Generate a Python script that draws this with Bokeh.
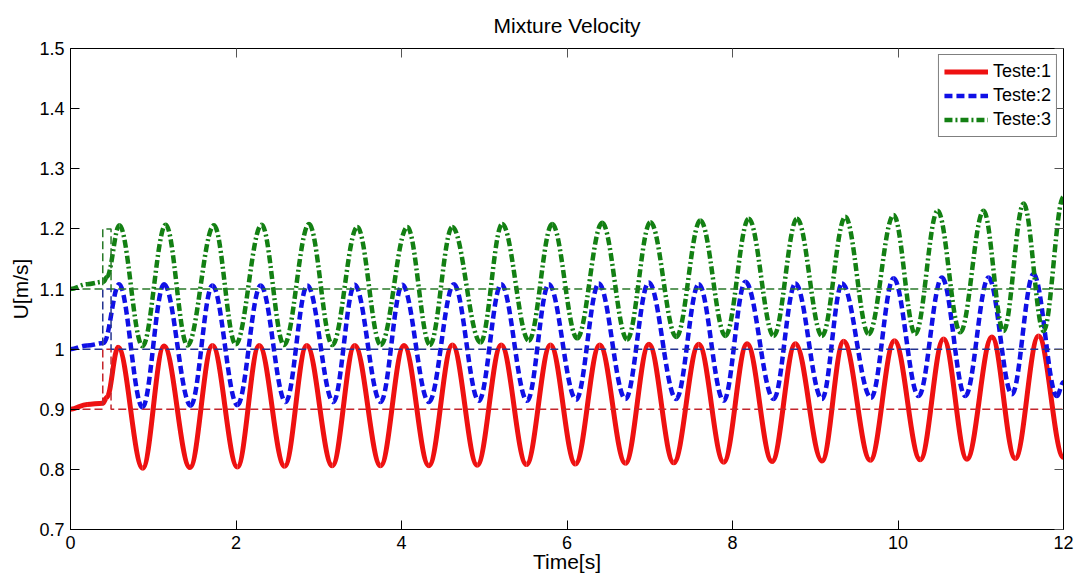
from bokeh.plotting import figure
from bokeh.models import ColumnDataSource, FixedTicker, LinearAxis, Range1d
from bokeh.embed import file_html
from bokeh.resources import INLINE

# ---------------- data ----------------
# Each series: start points, then alternating peaks / troughs, then end value.
red_t = [0.00, 0.20, 0.39, 0.44, 0.575, 0.873, 1.130, 1.444, 1.715, 2.017, 2.280, 2.588,
         2.855, 3.164, 3.435, 3.748, 4.030, 4.331, 4.615, 4.915, 5.205, 5.510, 5.800,
         6.102, 6.395, 6.706, 6.990, 7.290, 7.592, 7.894, 8.176, 8.478, 8.760, 9.082,
         9.343, 9.665, 9.957, 10.269, 10.551, 10.833, 11.135, 11.417, 11.698, 12.00]
red_u = [0.900, 0.908, 0.910, 0.920, 1.003, 0.802, 1.005, 0.803, 1.006, 0.804, 1.006, 0.805,
         1.006, 0.806, 1.006, 0.806, 1.006, 0.806, 1.007, 0.807, 1.007, 0.808, 1.007,
         0.809, 1.007, 0.810, 1.008, 0.811, 1.008, 0.812, 1.009, 0.813, 1.009, 0.814,
         1.013, 0.815, 1.014, 0.816, 1.017, 0.817, 1.020, 0.818, 1.022, 0.820]

blue_t = [0.00, 0.20, 0.40, 0.587, 0.870, 1.130, 1.453, 1.715, 2.017, 2.298, 2.600, 2.862,
          3.176, 3.434, 3.748, 4.010, 4.331, 4.633, 4.935, 5.205, 5.519, 5.780, 6.111,
          6.384, 6.707, 6.988, 7.320, 7.592, 7.894, 8.156, 8.498, 8.760, 9.082, 9.324,
          9.675, 9.947, 10.249, 10.531, 10.813, 11.094, 11.377, 11.638, 11.920, 12.00]
blue_u = [1.000, 1.006, 1.010, 1.108, 0.903, 1.108, 0.906, 1.106, 0.907, 1.106, 0.912, 1.106,
          0.912, 1.107, 0.912, 1.107, 0.912, 1.108, 0.914, 1.108, 0.914, 1.108, 0.916,
          1.109, 0.917, 1.111, 0.917, 1.108, 0.914, 1.112, 0.917, 1.109, 0.917, 1.109,
          0.919, 1.118, 0.922, 1.119, 0.922, 1.119, 0.925, 1.125, 0.922, 0.945]

green_t = [0.00, 0.20, 0.40, 0.44, 0.590, 0.870, 1.151, 1.413, 1.734, 1.996, 2.310, 2.580,
           2.882, 3.164, 3.466, 3.748, 4.070, 4.343, 4.614, 4.955, 5.217, 5.539, 5.821,
           6.123, 6.425, 6.727, 7.008, 7.321, 7.612, 7.915, 8.196, 8.498, 8.780, 9.082,
           9.363, 9.645, 9.947, 10.209, 10.479, 10.753, 11.034, 11.276, 11.518, 11.759, 12.00]
green_u = [1.100, 1.108, 1.112, 1.120, 1.206, 1.005, 1.207, 1.006, 1.206, 1.008, 1.207, 1.007,
           1.208, 1.007, 1.203, 1.007, 1.203, 1.007, 1.203, 1.011, 1.208, 1.014, 1.208,
           1.018, 1.210, 1.016, 1.211, 1.020, 1.214, 1.022, 1.217, 1.022, 1.217, 1.022,
           1.220, 1.025, 1.223, 1.025, 1.230, 1.028, 1.230, 1.030, 1.242, 1.030, 1.253]

# thin dashed reference (set-point) lines with the short pulse
ref_t = [0.0, 0.39, 0.39, 0.49, 0.49, 12.0]
ref1_u = [0.9, 0.9, 1.0, 1.0, 0.9, 0.9]
ref2_u = [1.0, 1.0, 1.1, 1.1, 1.0, 1.0]
ref3_u = [1.1, 1.1, 1.2, 1.2, 1.1, 1.1]

series_names = ["Teste:1", "Teste:2", "Teste:3"]
x_ticks = [0, 2, 4, 6, 8, 10, 12]
x_tick_labels = ["0", "2", "4", "6", "8", "10", "12"]
y_ticks = [0.7, 0.8, 0.9, 1.0, 1.1, 1.2, 1.3, 1.4, 1.5]
y_tick_labels = ["0.7", "0.8", "0.9", "1", "1.1", "1.2", "1.3", "1.4", "1.5"]

# ---------------- helpers ----------------
K = 0.3634  # cubic Bezier handle fraction approximating a half-cosine between extrema


def bez_source(t, u):
    x0, x1, y0, y1 = t[:-1], t[1:], u[:-1], u[1:]
    dx = [b - a for a, b in zip(x0, x1)]
    return ColumnDataSource(dict(
        x0=x0, y0=y0, x1=x1, y1=y1,
        cx0=[a + K * d for a, d in zip(x0, dx)], cy0=y0,
        cx1=[b - K * d for b, d in zip(x1, dx)], cy1=y1))


FONT = "Liberation Sans"

p = figure(width=1076, height=576, x_range=Range1d(0, 12), y_range=Range1d(0.7, 1.5),
           output_backend="svg", toolbar_location=None,
           min_border_left=70, min_border_right=13, min_border_top=47, min_border_bottom=47)
p.background_fill_color = "white"
p.border_fill_color = "white"
p.outline_line_color = "black"
p.outline_line_width = 1
p.xgrid.visible = False
p.ygrid.visible = False

p.title.text = "Mixture Velocity"
p.title.align = "center"
p.title.text_font = FONT
p.title.text_font_size = "21px"
p.title.text_font_style = "normal"
p.title.text_color = "black"
p.title.standoff = 23

p.xaxis.ticker = FixedTicker(ticks=x_ticks)
p.xaxis.major_label_overrides = dict(zip(x_ticks, x_tick_labels))
p.yaxis.ticker = FixedTicker(ticks=y_ticks)
p.yaxis.major_label_overrides = dict(zip(y_ticks, y_tick_labels))
p.xaxis.axis_label = "Time[s]"
p.yaxis.axis_label = "U[m/s]"
p.yaxis.axis_label_standoff = 4
p.xaxis.axis_label_standoff = -2

for ax in [p.xaxis[0], p.yaxis[0]]:
    ax.axis_label_text_font = FONT
    ax.axis_label_text_font_size = "21px"
    ax.axis_label_text_font_style = "normal"
    ax.axis_label_text_color = "black"
    ax.major_tick_in = 9
    ax.major_tick_out = 0
    ax.minor_tick_in = 0
    ax.minor_tick_out = 0
    ax.axis_line_color = "black"
    ax.major_tick_line_color = "black"
    ax.major_label_text_font = FONT
    ax.major_label_text_font_size = "18px"
    ax.major_label_text_color = "black"
p.xaxis.major_label_standoff = 6
p.yaxis.major_label_standoff = 6

# mirrored inward ticks on the top and right edges (no labels drawn)
for loc, ticks in (("above", x_ticks), ("right", y_ticks)):
    ax = LinearAxis(ticker=FixedTicker(ticks=ticks), major_label_text_color=None,
                    major_label_text_alpha=0, major_label_text_font_size="1px",
                    major_label_standoff=0, major_tick_in=9, major_tick_out=0,
                    minor_tick_in=0, minor_tick_out=0, major_tick_line_color="#555555",
                    axis_line_color="black")
    p.add_layout(ax, loc)

# ---------------- series ----------------
p.bezier("x0", "y0", "x1", "y1", "cx0", "cy0", "cx1", "cy1", source=bez_source(red_t, red_u),
         line_color="#ee1111", line_width=5, legend_label=series_names[0])
p.bezier("x0", "y0", "x1", "y1", "cx0", "cy0", "cx1", "cy1", source=bez_source(blue_t, blue_u),
         line_color="#1010e6", line_width=4.5, line_dash="8 4", legend_label=series_names[1])
p.bezier("x0", "y0", "x1", "y1", "cx0", "cy0", "cx1", "cy1", source=bez_source(green_t, green_u),
         line_color="#138013", line_width=4.5, line_dash="8 3 2 3", legend_label=series_names[2])

# reference lines on top
p.line(ref_t, ref1_u, line_color="#c4262c", line_width=1.5, line_dash="8 4")
p.line(ref_t, ref2_u, line_color="#24338f", line_width=1.5, line_dash="8 4")
p.line(ref_t, ref3_u, line_color="#2a7a2a", line_width=1.5, line_dash="8 4")

lg = p.legend[0]
lg.location = "top_right"
lg.margin = 6
lg.border_line_color = "black"
lg.border_line_width = 1
lg.background_fill_color = "white"
lg.background_fill_alpha = 1
lg.label_text_font = FONT
lg.label_text_font_size = "18px"
lg.label_text_color = "black"
lg.glyph_width = 44
lg.glyph_height = 23
lg.label_height = 23
lg.spacing = 1
lg.padding = 5
lg.label_standoff = 5

open("out.html", "w").write(file_html(p, INLINE))
